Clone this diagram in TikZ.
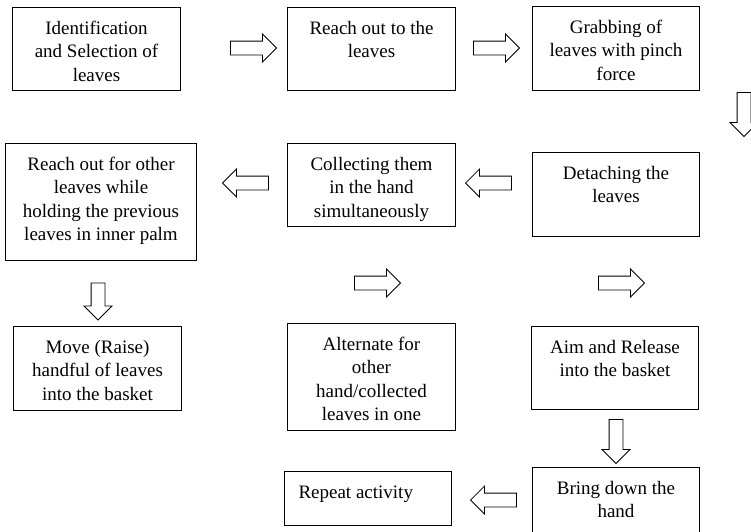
\documentclass[tikz,border=0pt]{standalone}
\usepackage{fontspec}
\setmainfont{Liberation Serif}
\usetikzlibrary{shapes.arrows}
\newcommand{\steptext}[4][\centering]{\parbox[t][#3][t]{#2}{#1\rule{0pt}{27pt}#4}}

\begin{document}
\begin{tikzpicture}[
    x=1pt, y=-1pt,
    stepbox/.style={draw, line width=1pt, inner sep=0pt, anchor=north west, font=\rmfamily\fontsize{19}{23.3}\selectfont},
    blk/.style={draw, single arrow, line width=0.8pt, inner sep=6.5pt, single arrow head extend=7pt, minimum height=46pt},
    blkdown/.style={blk, shape border rotate=270, minimum height=44pt},
    blkleft/.style={blk, shape border rotate=180}
]
\useasboundingbox (0,0) rectangle (751,531);

\node[stepbox] (ident) at (12,7) {\steptext{168pt}{83pt}{Identification\\and Selection of\\leaves}};
\node[stepbox] (reach) at (287,7) {\steptext{168pt}{83pt}{Reach out to the\\leaves}};
\node[stepbox] (grab) at (532,6) {\steptext{167pt}{84pt}{Grabbing of\\leaves with pinch\\force}};

\node[stepbox] (reachmore) at (5,143) {\steptext{191pt}{117pt}{Reach out for other\\leaves while\\holding the previous\\leaves in inner palm}};
\node[stepbox] (collect) at (287,143) {\steptext{168pt}{83pt}{Collecting them\\in the hand\\simultaneously}};
\node[stepbox] (detach) at (532,152) {\steptext{167pt}{84pt}{Detaching the\\leaves}};

\node[stepbox] (move) at (13,326) {\steptext{168pt}{84pt}{Move (Raise)\\handful of leaves\\into the basket}};
\node[stepbox] (alt) at (287,323) {\steptext{168pt}{107pt}{Alternate for\\other\\hand/collected\\leaves in one}};
\node[stepbox] (aim) at (531,326) {\steptext{167pt}{83pt}{Aim and Release\\into the basket}};

\node[stepbox] (repeat) at (284,471) {\steptext[\raggedright\hspace*{14pt}]{167pt}{54pt}{Repeat activity}};
\node[stepbox] (bring) at (532,467) {\steptext{167pt}{72pt}{Bring down the\\hand}};

\node[blk] (a1) at (250,48) {};
\node[blk] (a2) at (493,48) {};
\node[blkdown] (a3) at (744,111) {};
\node[blkleft] (a4) at (249,183) {};
\node[blkleft] (a5) at (492,183) {};
\node[blkdown, minimum height=37pt] (a6) at (98,298) {};
\node[blk] (a7) at (374,283) {};
\node[blk] (a8) at (618,283) {};
\node[blkdown] (a9) at (616,438) {};
\node[blkleft] (a10) at (497,500) {};

\end{tikzpicture}
\end{document}
